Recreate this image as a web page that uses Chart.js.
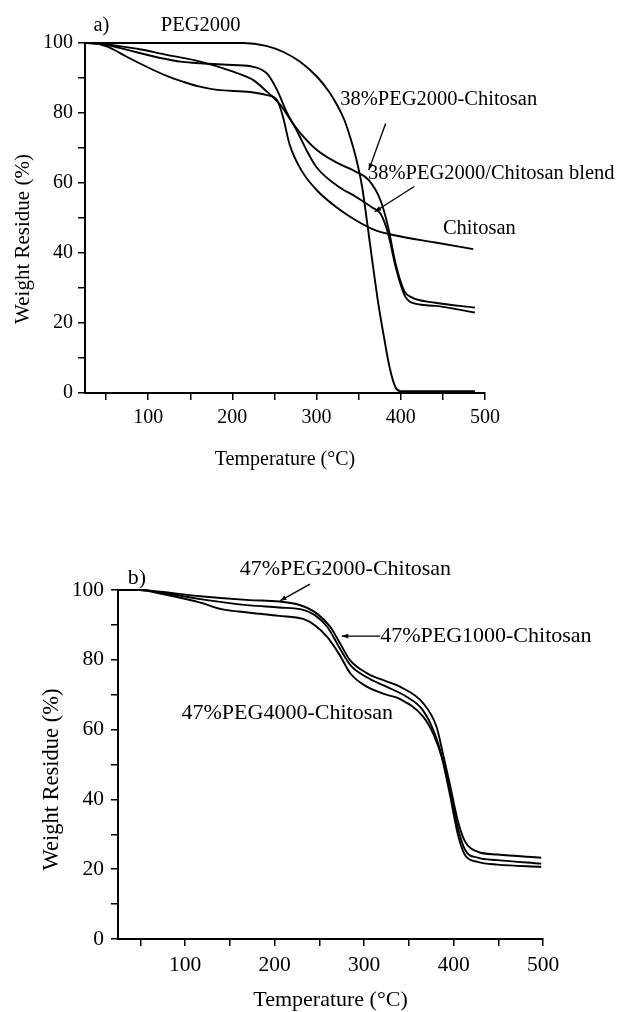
<!DOCTYPE html>
<html>
<head>
<meta charset="utf-8">
<script src="https://cdn.jsdelivr.net/npm/chart.js@4/dist/chart.umd.min.js"></script>
<style>
    body { margin: 0; background: #fff; width: 622px; height: 1012px; overflow: hidden; }
    .panel { position: absolute; left: 0; width: 622px; }
</style>
</head>
<body>
<div class="panel" style="top:0;height:480px"><canvas id="chart-a"></canvas></div>
<div class="panel" style="top:500px;height:512px"><canvas id="chart-b"></canvas></div>
<script>
// DATA

    // panel a)
    const tempPegA = [25, 60, 100, 150, 200, 213, 240, 260, 280, 300, 315, 325, 333, 340, 347, 354, 361, 366, 373, 380, 387, 394, 400, 420, 450, 488];
    const resPegA  = [100, 100, 100, 100, 100, 100, 99.2, 97.5, 94.7, 90.5, 86, 82, 78, 73, 67, 59, 47, 38, 26, 16, 7, 1.5, 0.5, 0.5, 0.5, 0.5];

    const tempChitosan = [25, 40, 55, 75, 100, 122, 142, 160, 182, 221, 241, 253, 260, 268, 282, 300, 324, 347, 371, 394, 441, 486];
    const resChitosan  = [100, 99.8, 98.6, 96, 93, 90.6, 88.9, 87.6, 86.6, 86, 85.1, 83.7, 79, 71, 63.6, 58, 53, 49.3, 46.4, 45, 43, 41.1];

    const tempBlend = [25, 45, 66, 113, 141, 162, 201, 225, 241, 253, 265, 278, 288, 300, 324, 347, 366, 376, 385, 394, 404, 413, 441, 488];
    const resBlend  = [100, 99.7, 98.6, 95.8, 94.6, 94.2, 93.7, 93.2, 91.3, 86.6, 80, 74.3, 69.4, 64.5, 59.3, 56, 53, 51.2, 45.5, 35.9, 28.2, 25.8, 24.9, 23];

    const tempCopoly = [25, 45, 66, 90, 122, 162, 201, 225, 241, 257, 272, 281, 300, 324, 347, 362, 376, 385, 394, 404, 413, 441, 488];
    const resCopoly  = [100, 99.8, 99.1, 98.2, 96.6, 94.7, 91.8, 89.4, 86.1, 82.3, 77, 74.2, 69.5, 65.8, 63.2, 60.8, 55, 47.4, 36.8, 29.2, 27.3, 25.8, 24.4];

    // panel b)
    const tempPeg2000B = [25, 50, 72, 117, 172, 205, 228, 247, 262, 273, 284, 303, 325, 340, 366, 381, 388, 396, 405, 413, 427, 449, 498];
    const resPeg2000B  = [100, 100, 99.5, 98.2, 97.1, 96.7, 95.7, 93.3, 89.5, 84.8, 80, 76.2, 73.8, 72.3, 67.6, 60.8, 53.3, 44.2, 33.7, 27.9, 25, 24.2, 23.3];

    const tempPeg1000B = [25, 50, 72, 117, 172, 205, 232, 245, 259, 272, 285, 303, 325, 347, 365, 378, 387, 396, 405, 413, 427, 449, 498];
    const resPeg1000B  = [100, 100, 99.3, 97.4, 95.6, 95, 94.3, 92.8, 89.4, 83.7, 78.4, 75, 72.3, 69.5, 65.8, 59.5, 52.3, 42.3, 31.7, 25.5, 23.3, 22.6, 21.6];

    const tempPeg4000B = [25, 50, 72, 117, 139, 172, 205, 232, 245, 259, 272, 285, 303, 325, 340, 366, 378, 387, 396, 405, 413, 427, 449, 498];
    const resPeg4000B  = [100, 100, 99, 96.4, 94.6, 93.5, 92.6, 91.7, 89.9, 86.5, 81.7, 76, 72.3, 70, 68.8, 63.7, 58.4, 51.9, 41.3, 29.8, 24, 22.1, 21.3, 20.7];

    // axis ticks
    const xTicks = [50, 100, 150, 200, 250, 300, 350, 400, 450, 500];
    const xLabels = [100, 200, 300, 400, 500];
    const yTicks = [0, 10, 20, 30, 40, 50, 60, 70, 80, 90, 100];
    const yLabels = [0, 20, 40, 60, 80, 100];

    const xTitle = 'Temperature (\u00B0C)';
    const yTitle = 'Weight Residue (%)';

// helpers

    const serif = '"Liberation Serif", "Times New Roman", serif';
    const toPoints = (xs, ys) => xs.map((x, i) => ({x: x, y: ys[i]}));

    function curve(xs, ys) {
        return {
            data: toPoints(xs, ys),
            showLine: true,
            borderColor: '#000',
            borderWidth: 1.9,
            pointRadius: 0,
            cubicInterpolationMode: 'monotone',
            fill: false,
            clip: 4
        };
    }

    // labels, arrows and axis titles drawn on top of the plot
    const notesPlugin = {
        id: 'notes',
        afterDraw(chart, args, opts) {
            const {ctx, chartArea} = chart;
            const sx = chart.scales.x, sy = chart.scales.y;
            ctx.save();
            ctx.fillStyle = '#000';
            ctx.strokeStyle = '#000';
            ctx.textBaseline = 'middle';
            ctx.font = opts.size + 'px ' + serif;

            opts.labels.forEach(l => {
                ctx.textAlign = 'left';
                ctx.fillText(l.text, sx.getPixelForValue(l.x), sy.getPixelForValue(l.y));
            });

            ctx.lineWidth = 1.3;
            opts.arrows.forEach(a => {
                const x1 = sx.getPixelForValue(a.x1), y1 = sy.getPixelForValue(a.y1);
                const x2 = sx.getPixelForValue(a.x2), y2 = sy.getPixelForValue(a.y2);
                ctx.beginPath();
                ctx.moveTo(x1, y1);
                ctx.lineTo(x2, y2);
                ctx.stroke();
                const ang = Math.atan2(y2 - y1, x2 - x1);
                ctx.beginPath();
                ctx.moveTo(x2, y2);
                ctx.lineTo(x2 - 7 * Math.cos(ang - 0.35), y2 - 7 * Math.sin(ang - 0.35));
                ctx.lineTo(x2 - 7 * Math.cos(ang + 0.35), y2 - 7 * Math.sin(ang + 0.35));
                ctx.closePath();
                ctx.fill();
            });

            ctx.textAlign = 'center';
            ctx.font = opts.xTitleSize + 'px ' + serif;
            ctx.fillText(xTitle, (chartArea.left + chartArea.right) / 2, chartArea.bottom + opts.xTitleGap);
            ctx.font = opts.yTitleSize + 'px ' + serif;
            ctx.translate(chartArea.left - opts.yTitleGap, sy.getPixelForValue(opts.yTitleAt));
            ctx.rotate(-Math.PI / 2);
            ctx.fillText(yTitle, 0, 0);
            ctx.restore();
        }
    };

    function axes(fontSize, yWidth, xHeight, xPad, yPad) {
        const tickFont = {family: serif, size: fontSize};
        const grid = {drawOnChartArea: false, drawTicks: true, tickLength: 7, color: '#000', lineWidth: 1.5};
        const border = {color: '#000', width: 2};
        return {
            x: {
                type: 'linear', min: 25, max: 500,
                border: border, grid: grid,
                ticks: {
                    color: '#000', font: tickFont, padding: xPad, autoSkip: false, maxRotation: 0,
                    callback: v => xLabels.includes(v) ? String(v) : ''
                },
                afterBuildTicks: s => { s.ticks = xTicks.map(v => ({value: v})); },
                afterFit: s => { s.height = xHeight; }
            },
            y: {
                type: 'linear', min: 0, max: 100,
                border: border, grid: grid,
                ticks: {
                    color: '#000', font: tickFont, padding: yPad, autoSkip: false,
                    callback: v => yLabels.includes(v) ? String(v) : ''
                },
                afterBuildTicks: s => { s.ticks = yTicks.map(v => ({value: v})); },
                afterFit: s => { s.width = yWidth; }
            }
        };
    }

// panel a)

    const configA = {
        type: 'scatter',
        data: {
            datasets: [
                curve(tempPegA, resPegA),
                curve(tempChitosan, resChitosan),
                curve(tempBlend, resBlend),
                curve(tempCopoly, resCopoly)
            ]
        },
        options: {
            responsive: true,
            maintainAspectRatio: false,
            animation: false,
            layout: {padding: {left: 0, right: 137, top: 43, bottom: 0}},
            scales: axes(20, 85, 87, 6, 5),
            plugins: {
                legend: {display: false},
                tooltip: {enabled: false},
                notes: {
                    size: 20.5, xTitleSize: 20, yTitleSize: 21, xTitleGap: 67, yTitleGap: 62, yTitleAt: 44,
                    labels: [
                        {text: 'a)', x: 35, y: 105},
                        {text: 'PEG2000', x: 115, y: 105},
                        {text: '38%PEG2000-Chitosan', x: 328, y: 83.7},
                        {text: '38%PEG2000/Chitosan blend', x: 361, y: 62.7},
                        {text: 'Chitosan', x: 450, y: 46.9}
                    ],
                    arrows: [
                        {x1: 382, y1: 77, x2: 362, y2: 63.7},
                        {x1: 416, y1: 59, x2: 369, y2: 51.8}
                    ]
                }
            }
        },
        plugins: [notesPlugin]
    };

    const chartA = new Chart(document.getElementById('chart-a'), configA);

// panel b)

    const configB = {
        type: 'scatter',
        data: {
            datasets: [
                curve(tempPeg2000B, resPeg2000B),
                curve(tempPeg1000B, resPeg1000B),
                curve(tempPeg4000B, resPeg4000B)
            ]
        },
        options: {
            responsive: true,
            maintainAspectRatio: false,
            animation: false,
            layout: {padding: {left: 0, right: 79, top: 90, bottom: 0}},
            scales: axes(21.5, 118, 73, 6, 7),
            plugins: {
                legend: {display: false},
                tooltip: {enabled: false},
                notes: {
                    size: 22, xTitleSize: 22, yTitleSize: 22.5, xTitleGap: 61, yTitleGap: 66, yTitleAt: 45.7,
                    labels: [
                        {text: 'b)', x: 36, y: 103.5},
                        {text: '47%PEG2000-Chitosan', x: 161, y: 106},
                        {text: '47%PEG1000-Chitosan', x: 318, y: 86.8},
                        {text: '47%PEG4000-Chitosan', x: 96, y: 64.7}
                    ],
                    arrows: [
                        {x1: 239.5, y1: 101.7, x2: 206, y2: 96.9},
                        {x1: 318, y1: 86.8, x2: 275, y2: 86.8}
                    ]
                }
            }
        },
        plugins: [notesPlugin]
    };

    const chartB = new Chart(document.getElementById('chart-b'), configB);
</script>
</body>
</html>
